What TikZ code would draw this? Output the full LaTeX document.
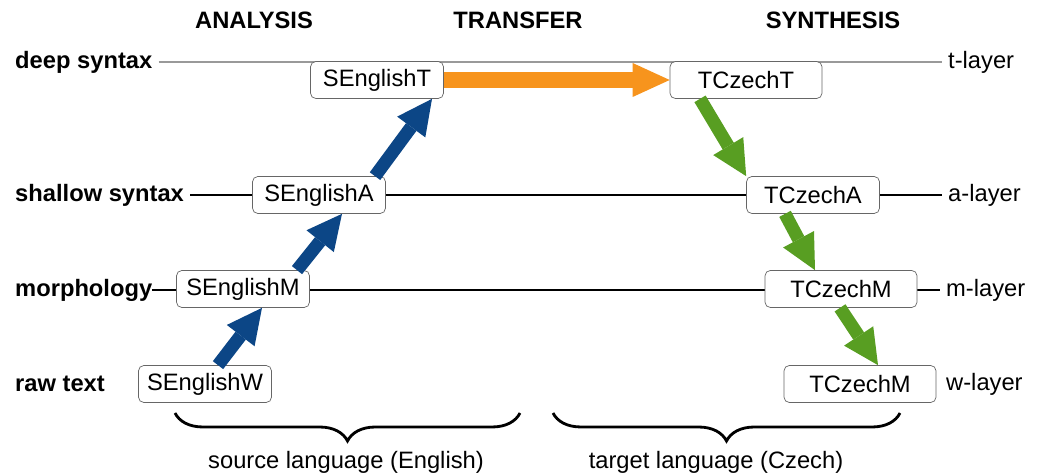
\documentclass[tikz,border=0pt]{standalone}
\usepackage{fontspec}
\setmainfont{Liberation Sans}
\usepackage{xcolor}
\usepackage{tikz}
\usetikzlibrary{arrows.meta, positioning, calc, decorations.pathreplacing}
\definecolor{transorange}{RGB}{247,148,29}
\definecolor{analysisblue}{RGB}{12,70,134}
\definecolor{synthgreen}{RGB}{88,158,34}

\begin{document}
\begin{tikzpicture}[
      x=0.02cm, y=-0.02cm,
      font=\fontsize{13.5}{16}\selectfont,
      box/.style={rectangle, rounded corners=3pt, draw=black!60, fill=white, minimum width=2.66cm, minimum height=0.74cm, inner sep=0pt},
      widebox/.style={box, minimum width=3.04cm},
      layer/.style={font=\fontsize{13.5}{16}\selectfont\bfseries},
      phase/.style={font=\fontsize{13.5}{16}\selectfont\bfseries},
      bigarrow/.style={-{Triangle[length=0.7cm, width=0.7cm, line width=0pt]}, line width=0.26cm},
      langbrace/.style={decorate, decoration={brace, mirror, amplitude=0.56cm}, line width=1.6pt}
    ]
      \useasboundingbox (0,0) rectangle (1037,475);

      % Phases
      \node[phase] (analysis) at (254,20) {ANALYSIS};
      \node[phase] (transfer) at (518,20) {TRANSFER};
      \node[phase] (synthesis) at (833,20) {SYNTHESIS};

      % Layer names, left and right
      \node[layer, anchor=west] (deep) at (9,62) {deep syntax};
      \node[layer, anchor=west] (shallow) at (9,195) {shallow syntax};
      \node[layer, anchor=west] (morph) at (9,290) {morphology};
      \node[layer, anchor=west] (raw) at (9,384) {raw text};
      \node[anchor=west] (tlayer) at (942,62) {t-layer};
      \node[anchor=west] (alayer) at (942,195) {a-layer};
      \node[anchor=west] (mlayer) at (940,290) {m-layer};
      \node[anchor=west] (wlayer) at (940,384) {w-layer};

      % Layer lines
      \draw[gray!80, line width=0.6pt] (deep) -- (tlayer);
      \draw[line width=0.6pt] (shallow) -- (alayer);
      \draw[line width=0.6pt, shorten <=-0.12cm] (morph) -- (mlayer);

      % Source side
      \node[box] (st) at (377,80) {SEnglishT};
      \node[box] (sa) at (319,195) {SEnglishA};
      \node[box] (sm) at (243,289) {SEnglishM};
      \node[box] (sw) at (205,384) {SEnglishW};

      % Target side
      \node[widebox] (tt) at (746,80) {TCzechT};
      \node[box] (ta) at (813,195) {TCzechA};
      \node[widebox] (tm) at (841,289) {TCzechM};
      \node[widebox] (tw) at (860,384) {TCzechM};

      % Arrows
      \draw[bigarrow, analysisblue] ($(sw.north)+(13,0)$) -- ($(sm.south)+(19,0)$);
      \draw[bigarrow, analysisblue] ($(sm.north)+(54,0)$) -- ($(sa.south)+(23,0)$);
      \draw[bigarrow, analysisblue] ($(sa.north)+(56,0)$) -- ($(st.south)+(55,0)$);
      \draw[-{Triangle[length=0.74cm, width=0.68cm, line width=0pt]}, line width=0.32cm, transorange] (st.east) -- (tt.west);
      \draw[bigarrow, synthgreen] ($(tt.south)+(-46,0)$) -- (ta.north west);
      \draw[bigarrow, synthgreen] ($(ta.south)+(-28,0)$) -- ($(tm.north)+(-26,0)$);
      \draw[bigarrow, synthgreen] ($(tm.south)+(-1,0)$) -- ($(tw.north)+(18,0)$);

      % Braces
      \coordinate (srcl) at (175,413);
      \coordinate (srcr) at (520,413);
      \coordinate (tgtl) at (553,413);
      \coordinate (tgtr) at (900,413);
      \draw[langbrace] (srcl) -- (srcr);
      \draw[langbrace] (tgtl) -- (tgtr);
      \node (srclang) at (346,462) {source language (English)};
      \node (tgtlang) at (716,462) {target language (Czech)};

    \end{tikzpicture}
\end{document}
